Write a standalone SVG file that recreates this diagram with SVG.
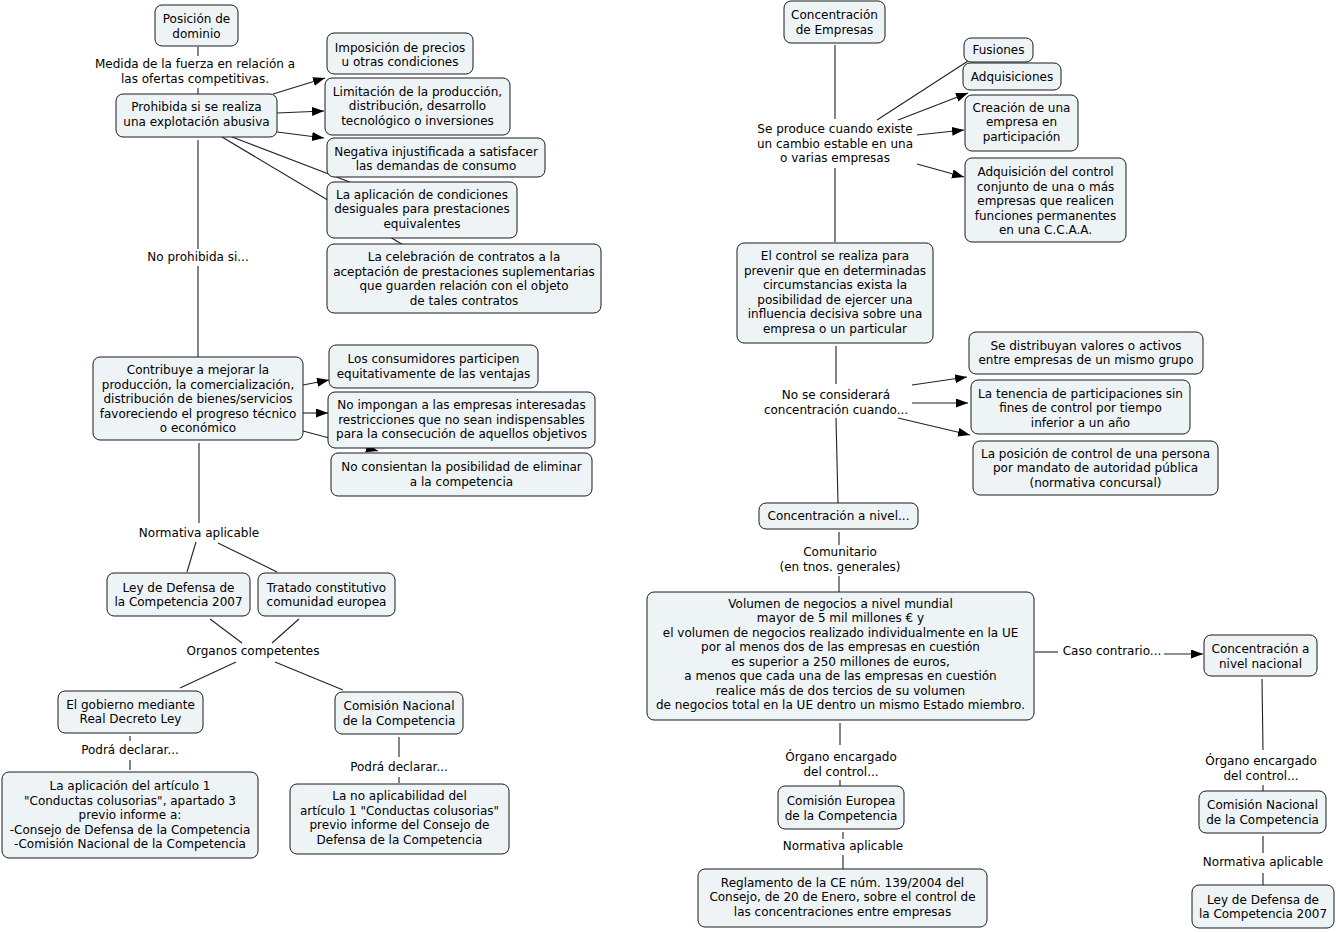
<svg xmlns="http://www.w3.org/2000/svg" width="1336" height="932" viewBox="0 0 1336 932">
<style>
.n rect{fill:#eef3f6;stroke:#1a1a1a;stroke-width:1;}
text{font-family:"DejaVu Sans",Verdana,"Liberation Sans",sans-serif;font-size:12px;fill:#000;text-anchor:middle;}
.c line,.c path{stroke:#222;stroke-width:1.1;fill:none;}
.a{marker-end:url(#ah);}
</style>
<defs>
<marker id="ah" markerUnits="userSpaceOnUse" markerWidth="13" markerHeight="10" refX="12" refY="4.5" orient="auto">
<path d="M0,0 L12,4.5 L0,9 z" fill="#000"/>
</marker>
</defs>
<rect width="1336" height="932" fill="#fff"/>

<g id="connectors" class="c">
<line x1="198" y1="47" x2="198" y2="56"/>
<line x1="198" y1="88" x2="198" y2="94"/>
<line class="a" x1="273" y1="94" x2="325" y2="78"/>
<line class="a" x1="277" y1="113" x2="324" y2="111"/>
<line class="a" x1="277" y1="132" x2="324" y2="138"/>
<line x1="232" y1="137" x2="360" y2="186"/>
<line x1="222" y1="137" x2="405" y2="246"/>
<line x1="198" y1="140" x2="198" y2="249"/>
<line x1="198" y1="266" x2="198" y2="357"/>
<line class="a" x1="303" y1="385" x2="329" y2="380"/>
<line class="a" x1="303" y1="413" x2="328" y2="413"/>
<line class="a" x1="303" y1="431" x2="378" y2="451"/>
<line x1="199" y1="443" x2="199" y2="523"/>
<line x1="196" y1="542" x2="187" y2="572"/>
<line x1="218" y1="543" x2="277" y2="572"/>
<line x1="210" y1="619" x2="242" y2="643"/>
<line x1="299" y1="619" x2="272" y2="643"/>
<line x1="236" y1="662" x2="180" y2="688"/>
<line x1="275" y1="662" x2="343" y2="690"/>
<line x1="130" y1="736" x2="130" y2="741"/>
<line x1="130" y1="760" x2="130" y2="770"/>
<line x1="399" y1="737" x2="399" y2="757"/>
<line x1="399" y1="777" x2="399" y2="783"/>

<line x1="835" y1="45" x2="835" y2="119"/>
<line x1="835" y1="168" x2="835" y2="242"/>
<line x1="877" y1="120" x2="968" y2="61"/>
<line class="a" x1="898" y1="120" x2="968" y2="93"/>
<line class="a" x1="917" y1="135" x2="964" y2="130"/>
<line class="a" x1="917" y1="164" x2="964" y2="177"/>
<line x1="836" y1="346" x2="836" y2="384"/>
<line x1="836" y1="418" x2="838" y2="503"/>
<line class="a" x1="912" y1="385" x2="967" y2="377"/>
<line class="a" x1="912" y1="403" x2="968" y2="403"/>
<line class="a" x1="898" y1="418" x2="970" y2="435"/>
<line x1="839" y1="532" x2="839" y2="545"/>
<line x1="839" y1="576" x2="839" y2="592"/>
<line x1="840" y1="723" x2="840" y2="745"/>
<line x1="840" y1="780" x2="840" y2="786"/>
<line x1="843" y1="832" x2="843" y2="839"/>
<line x1="843" y1="855" x2="843" y2="869"/>
<line x1="1035" y1="652" x2="1058" y2="652"/>
<line class="a" x1="1164" y1="654" x2="1203" y2="654"/>
<line x1="1262" y1="679" x2="1263" y2="750"/>
<line x1="1263" y1="785" x2="1263" y2="791"/>
<line x1="1263" y1="836" x2="1263" y2="853"/>
<line x1="1263" y1="873" x2="1263" y2="885"/>
</g>

<g id="labels">
<text x="195" y="68">Medida de la fuerza en relación a</text>
<text x="195" y="83">las ofertas competitivas.</text>
<text x="198" y="261">No prohibida si...</text>
<text x="199" y="537">Normativa aplicable</text>
<text x="253" y="655">Organos competentes</text>
<text x="130" y="754">Podrá declarar...</text>
<text x="399" y="771">Podrá declarar...</text>
<text x="835" y="133">Se produce cuando existe</text>
<text x="835" y="147.5">un cambio estable en una</text>
<text x="835" y="162">o varias empresas</text>
<text x="836" y="399">No se considerará</text>
<text x="836" y="413.5">concentración cuando...</text>
<text x="840" y="556">Comunitario</text>
<text x="840" y="570.5">(en tnos. generales)</text>
<text x="841" y="761">Órgano encargado</text>
<text x="841" y="775.5">del control...</text>
<text x="843" y="850">Normativa aplicable</text>
<text x="1112" y="655">Caso contrario...</text>
<text x="1261" y="765">Órgano encargado</text>
<text x="1261" y="780">del control...</text>
<text x="1263" y="866">Normativa aplicable</text>
</g>

<g id="n1" class="n"><rect x="155" y="5" width="83" height="41" rx="7"/><text x="196.5" y="23">Posición de</text><text x="196.5" y="37.5">dominio</text></g>
<g id="n2" class="n"><rect x="116" y="94" width="161" height="43" rx="7"/><text x="196.5" y="111">Prohibida si se realiza</text><text x="196.5" y="125.5">una explotación abusiva</text></g>
<g id="b1" class="n"><rect x="327" y="33" width="146" height="41" rx="7"/><text x="400" y="51.5">Imposición de precios</text><text x="400" y="66">u otras condiciones</text></g>
<g id="b2" class="n"><rect x="325" y="78" width="185" height="57" rx="7"/><text x="417.5" y="95.5">Limitación de la producción,</text><text x="417.5" y="110">distribución, desarrollo</text><text x="417.5" y="124.5">tecnológico o inversiones</text></g>
<g id="b3" class="n"><rect x="327" y="138" width="218" height="39" rx="7"/><text x="436" y="155.5">Negativa injustificada a satisfacer</text><text x="436" y="170">las demandas de consumo</text></g>
<g id="b4" class="n"><rect x="327" y="182" width="190" height="56" rx="7"/><text x="422" y="198.5">La aplicación de condiciones</text><text x="422" y="213">desiguales para prestaciones</text><text x="422" y="227.5">equivalentes</text></g>
<g id="b5" class="n"><rect x="327" y="244" width="274" height="69" rx="7"/><text x="464" y="261">La celebración de contratos a la</text><text x="464" y="275.5">aceptación de prestaciones suplementarias</text><text x="464" y="290">que guarden relación con el objeto</text><text x="464" y="304.5">de tales contratos</text></g>
<g id="n3" class="n"><rect x="93" y="357" width="210" height="83" rx="7"/><text x="198" y="374">Contribuye a mejorar la</text><text x="198" y="388.5">producción, la comercialización,</text><text x="198" y="403">distribución de bienes/servicios</text><text x="198" y="417.5">favoreciendo el progreso técnico</text><text x="198" y="432">o económico</text></g>
<g id="c1" class="n"><rect x="329" y="345" width="209" height="43" rx="7"/><text x="433.5" y="363">Los consumidores participen</text><text x="433.5" y="377.5">equitativamente de las ventajas</text></g>
<g id="c2" class="n"><rect x="328" y="392" width="267" height="56" rx="7"/><text x="461.5" y="409">No impongan a las empresas interesadas</text><text x="461.5" y="423.5">restricciones que no sean indispensables</text><text x="461.5" y="438">para la consecución de aquellos objetivos</text></g>
<g id="c3" class="n"><rect x="331" y="453" width="261" height="43" rx="7"/><text x="461.5" y="471">No consientan la posibilidad de eliminar</text><text x="461.5" y="485.5">a la competencia</text></g>
<g id="n4" class="n"><rect x="107" y="573" width="143" height="43" rx="7"/><text x="178.5" y="591.5">Ley de Defensa de</text><text x="178.5" y="606">la Competencia 2007</text></g>
<g id="n5" class="n"><rect x="258" y="573" width="137" height="43" rx="7"/><text x="326.5" y="591.5">Tratado constitutivo</text><text x="326.5" y="606">comunidad europea</text></g>
<g id="n6" class="n"><rect x="58" y="691" width="145" height="42" rx="7"/><text x="130.5" y="708.5">El gobierno mediante</text><text x="130.5" y="723">Real Decreto Ley</text></g>
<g id="n7" class="n"><rect x="335" y="692" width="128" height="42" rx="7"/><text x="399" y="710">Comisión Nacional</text><text x="399" y="724.5">de la Competencia</text></g>
<g id="n8" class="n"><rect x="2" y="772" width="256" height="86" rx="7"/><text x="130" y="790">La aplicación del artículo 1</text><text x="130" y="804.5">"Conductas colusorias", apartado 3</text><text x="130" y="819">previo informe a:</text><text x="130" y="833.5">-Consejo de Defensa de la Competencia</text><text x="130" y="848">-Comisión Nacional de la Competencia</text></g>
<g id="n9" class="n"><rect x="290" y="784" width="219" height="70" rx="7"/><text x="399.5" y="800">La no aplicabilidad del</text><text x="399.5" y="814.5">artículo 1 "Conductas colusorias"</text><text x="399.5" y="829">previo informe del Consejo de</text><text x="399.5" y="843.5">Defensa de la Competencia</text></g>

<g id="r1" class="n"><rect x="784" y="1" width="101" height="42" rx="7"/><text x="834.5" y="19">Concentración</text><text x="834.5" y="33.5">de Empresas</text></g>
<g id="r2" class="n"><rect x="964" y="38" width="69" height="24" rx="7"/><text x="998.5" y="54">Fusiones</text></g>
<g id="r3" class="n"><rect x="963" y="63" width="98" height="27" rx="7"/><text x="1012" y="80.5">Adquisiciones</text></g>
<g id="r4" class="n"><rect x="965" y="95" width="113" height="56" rx="7"/><text x="1021.5" y="111.5">Creación de una</text><text x="1021.5" y="126">empresa en</text><text x="1021.5" y="140.5">participación</text></g>
<g id="r5" class="n"><rect x="965" y="158" width="161" height="84" rx="7"/><text x="1045.5" y="176">Adquisición del control</text><text x="1045.5" y="190.5">conjunto de una o más</text><text x="1045.5" y="205">empresas que realicen</text><text x="1045.5" y="219.5">funciones permanentes</text><text x="1045.5" y="234">en una C.C.A.A.</text></g>
<g id="r6" class="n"><rect x="737" y="243" width="196" height="100" rx="7"/><text x="835" y="260">El control se realiza para</text><text x="835" y="274.5">prevenir que en determinadas</text><text x="835" y="289">circumstancias exista la</text><text x="835" y="303.5">posibilidad de ejercer una</text><text x="835" y="318">influencia decisiva sobre una</text><text x="835" y="332.5">empresa o un particular</text></g>
<g id="r7" class="n"><rect x="969" y="332" width="234" height="42" rx="7"/><text x="1086" y="349.5">Se distribuyan valores o activos</text><text x="1086" y="364">entre empresas de un mismo grupo</text></g>
<g id="r8" class="n"><rect x="971" y="380" width="219" height="54" rx="7"/><text x="1080.5" y="397.5">La tenencia de participaciones sin</text><text x="1080.5" y="412">fines de control por tiempo</text><text x="1080.5" y="426.5">inferior a un año</text></g>
<g id="r9" class="n"><rect x="973" y="441" width="245" height="54" rx="7"/><text x="1095.5" y="457.5">La posición de control de una persona</text><text x="1095.5" y="472">por mandato de autoridad pública</text><text x="1095.5" y="486.5">(normativa concursal)</text></g>
<g id="r10" class="n"><rect x="759" y="503" width="159" height="26" rx="7"/><text x="838.5" y="520">Concentración a nivel...</text></g>
<g id="r11" class="n"><rect x="647" y="592" width="387" height="128" rx="7"/><text x="840.5" y="607.5">Volumen de negocios a nivel mundial</text><text x="840.5" y="622">mayor de 5 mil millones € y</text><text x="840.5" y="636.5">el volumen de negocios realizado individualmente en la UE</text><text x="840.5" y="651">por al menos dos de las empresas en cuestión</text><text x="840.5" y="665.5">es superior a 250 millones de euros,</text><text x="840.5" y="680">a menos que cada una de las empresas en cuestión</text><text x="840.5" y="694.5">realice más de dos tercios de su volumen</text><text x="840.5" y="709">de negocios total en la UE dentro un mismo Estado miembro.</text></g>
<g id="r12" class="n"><rect x="778" y="786" width="126" height="43" rx="7"/><text x="841" y="805">Comisión Europea</text><text x="841" y="819.5">de la Competencia</text></g>
<g id="r13" class="n"><rect x="698" y="869" width="289" height="58" rx="7"/><text x="842.5" y="886.5">Reglamento de la CE núm. 139/2004 del</text><text x="842.5" y="901">Consejo, de 20 de Enero, sobre el control de</text><text x="842.5" y="915.5">las concentraciones entre empresas</text></g>
<g id="r14" class="n"><rect x="1204" y="635" width="113" height="41" rx="7"/><text x="1260.5" y="653">Concentración a</text><text x="1260.5" y="667.5">nivel nacional</text></g>
<g id="r15" class="n"><rect x="1199" y="791" width="127" height="42" rx="7"/><text x="1262.5" y="809">Comisión Nacional</text><text x="1262.5" y="823.5">de la Competencia</text></g>
<g id="r16" class="n"><rect x="1192" y="885" width="142" height="43" rx="7"/><text x="1263" y="903.5">Ley de Defensa de</text><text x="1263" y="918">la Competencia 2007</text></g>
</svg>
